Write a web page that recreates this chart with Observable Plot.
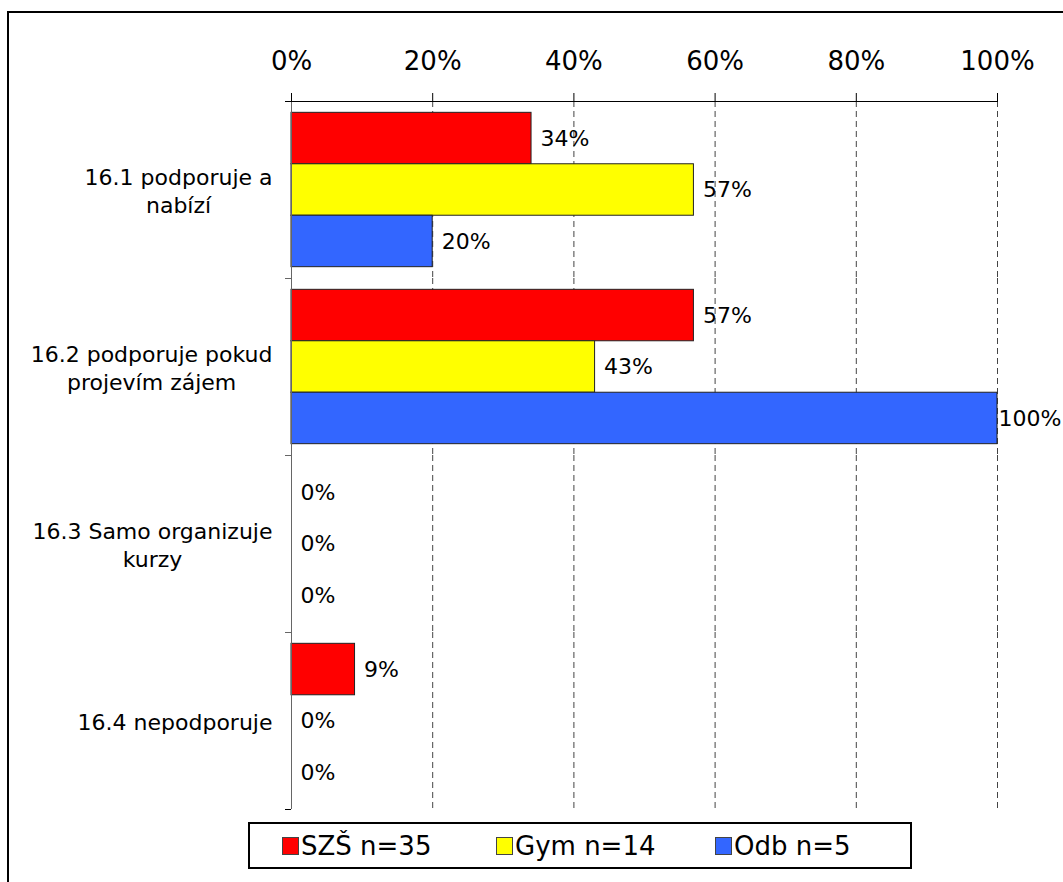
<!DOCTYPE html>
<html>
<head>
<meta charset="utf-8">
<script src="https://cdn.jsdelivr.net/npm/d3@7"></script>
<script src="https://cdn.jsdelivr.net/npm/@observablehq/plot@0.6"></script>
<style>
  body { margin: 0; background: #fff; font-family: "DejaVu Sans", Verdana, sans-serif; }
  #page { position: relative; width: 1063px; height: 882px; overflow: hidden; }
  #border { position: absolute; left: 7px; top: 11px; width: 1120px; height: 1000px;
            border: 2px solid #000; box-sizing: border-box; }
  #chart { position: absolute; left: 0; top: 0; }
  #legend { position: absolute; left: 248px; top: 822px; width: 664px; height: 47px;
            border: 2px solid #000; box-sizing: border-box; background: #fff;
            display: flex; align-items: center; padding-left: 32px;
            font-size: 26px; color: #000; }
  .item { display: flex; align-items: center; }
  .sw { width: 17px; height: 18px; border: 1px solid #444; box-sizing: border-box; margin-right: 2px; }
</style>
</head>
<body>
<div id="page">
  <div id="border"></div>
  <div id="chart"></div>
  <div id="legend"></div>
</div>
<script>
// Categories (questionnaire items) and their label lines
const categories = ["16.1", "16.2", "16.3", "16.4"];
const categoryLines = [
  ["16.1 podporuje a", "nabízí"],
  ["16.2 podporuje pokud", "projevím zájem"],
  ["16.3 Samo organizuje", "kurzy"],
  ["16.4 nepodporuje"]
];

// Respondent groups
const series = ["SZŠ n=35", "Gym n=14", "Odb n=5"];
const colors = ["#ff0000", "#ffff00", "#3366ff"];

// Percentages per category, one array per group
const szs = [34, 57, 0, 9];
const gym = [57, 43, 0, 0];
const odb = [20, 100, 0, 0];

// Axis ticks (percent)
const xTicks = [0, 20, 40, 60, 80, 100];
const legendWidths = [214, 219, null];

const values = [szs, gym, odb];
const rows = categories.flatMap((c, i) =>
  series.map((s, k) => ({cat: c, series: s, k, value: values[k][i]}))
);

// Measure label blocks so each line is centred within its right-aligned block
const ctx = document.createElement("canvas").getContext("2d");
ctx.font = "22px 'DejaVu Sans'";
const blockWidth = categoryLines.map(lines => Math.max(...lines.map(l => ctx.measureText(l).width)));

const pad = 0.22; // gap above/below the three bars of each group, in bar units

const categoryLabels = categories.map((c, i) =>
  Plot.text([c], {
    fy: d => d,
    text: () => categoryLines[i].join("\n"),
    frameAnchor: "left",
    textAnchor: "middle",
    lineHeight: 1.25,
    fontSize: 22,
    dx: -(19 + blockWidth[i] / 2)
  })
);

const chart = Plot.plot({
  width: 1063,
  height: 815,
  marginTop: 100,
  marginBottom: 6,
  marginLeft: 291,
  marginRight: 66,
  style: {fontFamily: "'DejaVu Sans', Verdana, sans-serif", fontSize: "22px", background: "transparent", overflow: "visible", color: "#000"},
  x: {domain: [0, 100], label: null},
  y: {domain: [-pad, 3 + pad], reverse: true, axis: null},
  fy: {domain: categories, padding: 0, axis: null},
  color: {domain: series, range: colors},
  marks: [
    // dashed vertical gridlines
    Plot.ruleX(xTicks.slice(1), {stroke: "#444", strokeDasharray: "6,4"}),
    // bars
    Plot.rect(rows, {x1: 0, x2: "value", y1: "k", y2: d => d.k + 1, fy: "cat",
      fill: "series", stroke: "#222", strokeWidth: 1}),
    // left axis line and its group-boundary ticks
    Plot.ruleX([0], {stroke: "#666"}),
    Plot.ruleY(categories.slice(1), {fy: d => d, y: -pad, x1: 0, x2: 0, insetLeft: -6, stroke: "#666"}),
    Plot.ruleY(categories.slice(-1), {fy: d => d, y: 3 + pad, x1: 0, x2: 0, insetLeft: -6, stroke: "#000"}),
    // top axis line
    Plot.ruleY(categories.slice(0, 1), {fy: d => d, y: -pad, x1: 0, x2: 100, insetLeft: -6, stroke: "#000"}),
    Plot.axisX(xTicks, {anchor: "top", tickSize: 9, tickPadding: 23, fontSize: 26,
      tickFormat: d => d + "%", stroke: "#000", fill: "#000"}),
    // value labels
    Plot.text(rows.filter(d => d.value < 100), {x: "value", y: d => d.k + 0.5, fy: "cat",
      text: d => d.value + "%", textAnchor: "start", dx: 9, fontSize: 22, fill: "#000"}),
    Plot.text(rows.filter(d => d.value >= 100), {x: "value", y: d => d.k + 0.5, fy: "cat",
      text: d => d.value + "%", textAnchor: "start", dx: 1, fontSize: 22, fill: "#000"}),
    ...categoryLabels
  ]
});
document.getElementById("chart").append(chart);

// Legend
const legend = document.getElementById("legend");
series.forEach((s, k) => {
  const item = document.createElement("div");
  item.className = "item";
  if (legendWidths[k]) item.style.width = legendWidths[k] + "px";
  const sw = document.createElement("div");
  sw.className = "sw";
  sw.style.background = colors[k];
  const label = document.createElement("span");
  label.textContent = s;
  item.append(sw, label);
  legend.append(item);
});
</script>
</body>
</html>
